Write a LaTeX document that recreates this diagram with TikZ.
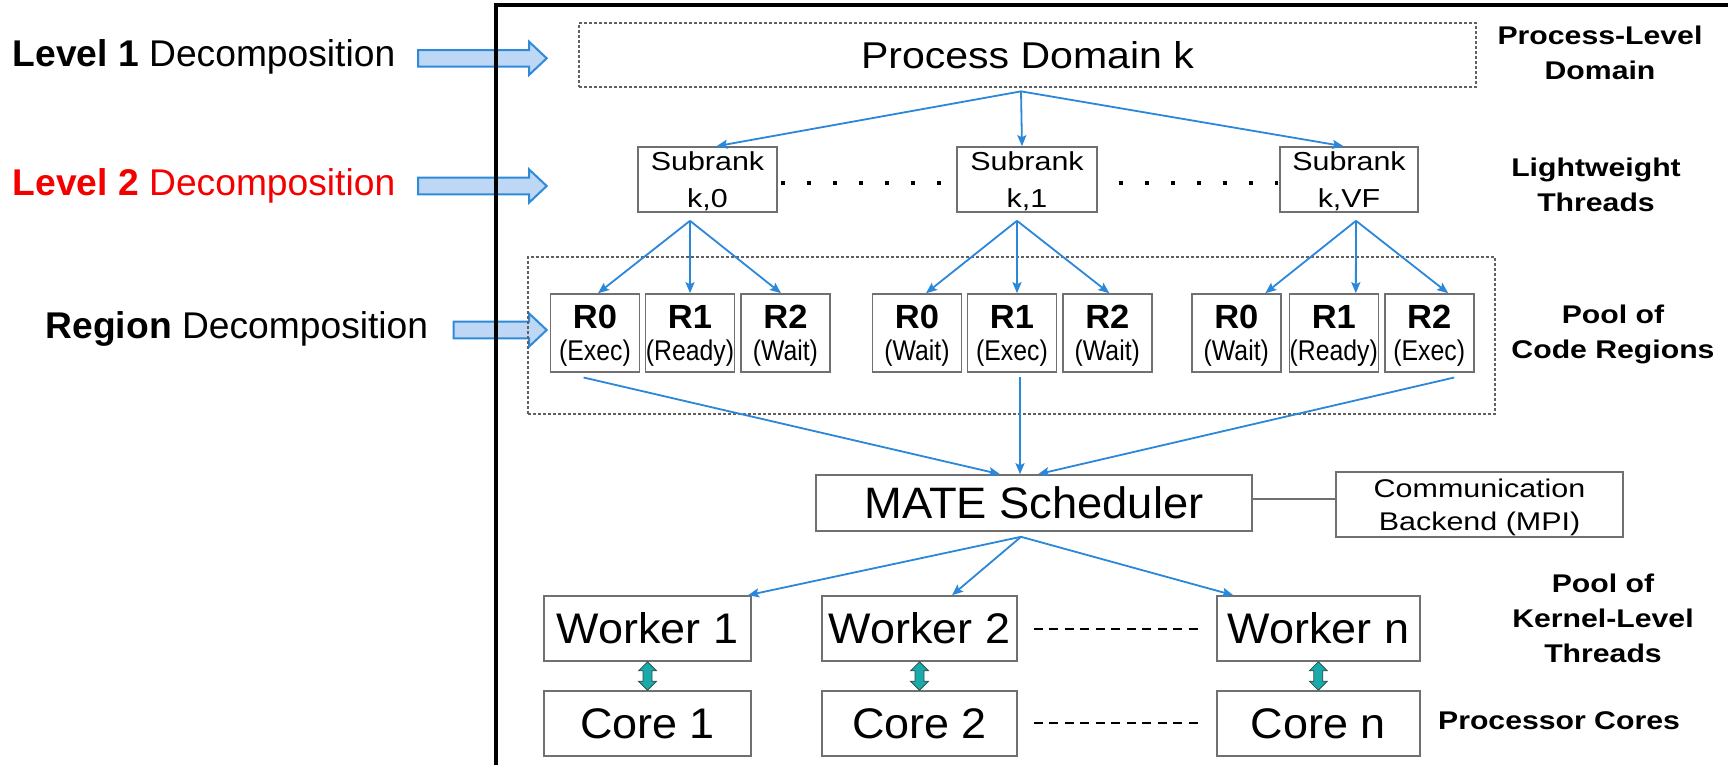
\documentclass[tikz,border=0pt]{standalone}
\usepackage{fontspec}
\setmainfont{Liberation Sans}
\usepackage{graphicx}
\usetikzlibrary{arrows.meta,calc}

\definecolor{linkblue}{RGB}{42,135,218}
\definecolor{arrowfill}{RGB}{189,215,244}
\definecolor{arrowline}{RGB}{47,138,217}
\definecolor{boxgray}{RGB}{112,112,112}
\definecolor{dashgray}{RGB}{96,96,96}
\definecolor{duofill}{RGB}{26,170,170}
\definecolor{duoline}{RGB}{45,80,80}
\definecolor{lvlred}{RGB}{245,0,0}

% horizontal scaling of a piece of text
\newcommand\hs[2]{\scalebox{#1}[1]{#2}}

% fat two-headed arrow between the bottom of #1 and the top of #2
\newcommand\linkarrow[2]{%
  \draw[duo] let \p1=(#1.south), \p2=(#2.north) in
    (\x1,\y1) -- ({\x1+9pt},{\y1-9pt}) -- ({\x1+4.5pt},{\y1-9pt})
    -- ({\x1+4.5pt},{\y2+9pt}) -- ({\x1+9pt},{\y2+9pt}) -- (\x1,\y2)
    -- ({\x1-9pt},{\y2+9pt}) -- ({\x1-4.5pt},{\y2+9pt})
    -- ({\x1-4.5pt},{\y1-9pt}) -- ({\x1-9pt},{\y1-9pt}) -- cycle;}

% block arrow pointing right: #1 tail x, #2 centre y
\newcommand\blockarrow[2]{%
  \draw[barrow] (#1,{#2-8.3}) -- (529,{#2-8.3}) -- (529,{#2-16.7})
    -- (546.7,#2) -- (529,{#2+16.7}) -- (529,{#2+8.3}) -- (#1,{#2+8.3}) -- cycle;}

\begin{document}
\begin{tikzpicture}[x=1pt,y=-1pt,
  box/.style={draw=boxgray, line width=1.6pt, inner sep=0pt, align=center, fill=white},
  dbox/.style={draw=dashgray, line width=1.3pt, dash pattern=on 3pt off 2pt, inner sep=0pt, align=center},
  rbox/.style={box, minimum width=89pt, minimum height=78pt, text depth=-4pt,
    font=\fontsize{28.5}{32}\selectfont},
  wbox/.style={box, minimum height=65pt, font=\fontsize{42.8}{46}\selectfont},
  side/.style={inner sep=0pt, align=center, font=\fontsize{25.6}{35}\selectfont\bfseries},
  lefttext/.style={inner sep=0pt, anchor=base west, font=\fontsize{37.2}{40}\selectfont},
  conn/.style={draw=linkblue, line width=1.8pt, -{Stealth[length=11pt,width=9pt,inset=2pt]}},
  dots/.style={line width=4pt, dash pattern=on 4pt off 22pt},
  dline/.style={line width=2.7pt, dash pattern=on 9pt off 6.5pt},
  duo/.style={fill=duofill, draw=duoline, line width=0.8pt, line join=miter},
  barrow/.style={fill=arrowfill, draw=arrowline, line width=2pt, line join=miter},
  joint/.style={draw=boxgray, line width=1.6pt}]

\useasboundingbox (0,0) rectangle (1728,764);
\fill[white] (0,0) rectangle (1728,764);

% decomposition levels on the left
\node[lefttext] (lv1) at (12.5,66.7) {\textbf{Level 1} Decomposition};
\node[lefttext, text=lvlred] (lv2) at (12.5,195) {\textbf{Level 2} Decomposition};
\node[lefttext] (lv3) at (45.5,338) {\textbf{Region} Decomposition};
\blockarrow{418}{58.3}
\blockarrow{418}{186}
\blockarrow{453.5}{330}

% frame of the runtime
\draw[line width=4pt, line join=miter] (495.5,770) -- (495.5,5.3) -- (1735,5.3);

% process domain
\node[dbox, minimum width=897pt, minimum height=64pt, font=\fontsize{37.3}{40}\selectfont]
  (pd) at (1027.5,55) {\hs{1.10}{Process Domain k}};

% subranks
\begin{scope}[every node/.style={box, minimum height=65pt, text depth=-2pt,
    font=\fontsize{26}{36.6}\selectfont}]
\node[minimum width=139pt] (s0) at (707.5,179.5) {\hs{1.17}{Subrank}\\\hs{1.17}{k,0}};
\node[minimum width=140pt] (s1) at (1027,179.5) {\hs{1.17}{Subrank}\\\hs{1.17}{k,1}};
\node[minimum width=138pt] (s2) at (1349,179.5) {\hs{1.17}{Subrank}\\\hs{1.17}{k,VF}};
\end{scope}
\draw[dots] ([xshift=3.3pt,yshift=-3.2pt]s0.east) -- ([xshift=-15pt,yshift=-3.2pt]s1.west);
\draw[dots] ([xshift=21pt,yshift=-3.2pt]s1.east) -- ([xshift=-1pt,yshift=-3.2pt]s2.west);

% pool of code regions
\node[dbox, minimum width=967pt, minimum height=157pt] (pool) at (1011.5,335.5) {};
\newcommand\rlabel[2]{{\fontsize{33.5}{32}\selectfont\bfseries\hs{1.03}{#1}}\\\hs{0.87}{(#2)}}
\node[rbox] (r00) at (595,333)    {\rlabel{R0}{Exec}};
\node[rbox] (r01) at (690,333)    {\rlabel{R1}{Ready}};
\node[rbox] (r02) at (785.4,333)  {\rlabel{R2}{Wait}};
\node[rbox] (r10) at (917,333)    {\rlabel{R0}{Wait}};
\node[rbox] (r11) at (1012,333)   {\rlabel{R1}{Exec}};
\node[rbox] (r12) at (1107.3,333) {\rlabel{R2}{Wait}};
\node[rbox] (r20) at (1236.3,333) {\rlabel{R0}{Wait}};
\node[rbox] (r21) at (1333.8,333) {\rlabel{R1}{Ready}};
\node[rbox] (r22) at (1429.2,333) {\rlabel{R2}{Exec}};

% scheduler and communication backend
\node[box, minimum width=436pt, minimum height=56pt, font=\fontsize{44}{48}\selectfont]
  (mate) at (1034,503) {\hs{1.03}{MATE Scheduler}};
\node[box, minimum width=287pt, minimum height=65pt, text depth=-2.2pt,
  font=\fontsize{25.6}{33.4}\selectfont]
  (comm) at (1479.5,504.5) {\hs{1.19}{Communication}\\\hs{1.19}{Backend (MPI)}};
\draw[joint] ([yshift=4pt]mate.east) -- ([yshift=5.5pt]comm.west);

% workers and cores
\node[wbox, minimum width=207pt] (w1) at (647.5,628.5) {\hs{1.05}{Worker 1}};
\node[wbox, minimum width=195pt] (w2) at (919.5,628.5) {\hs{1.05}{Worker 2}};
\node[wbox, minimum width=203pt] (wn) at (1318.3,628.5) {\hs{1.05}{Worker n}};
\node[wbox, minimum width=207pt] (c1) at (647.5,723.5) {\hs{1.05}{Core 1}};
\node[wbox, minimum width=195pt] (c2) at (919.5,723.5) {\hs{1.05}{Core 2}};
\node[wbox, minimum width=203pt] (cn) at (1318.3,723.5) {\hs{1.05}{Core n}};
\draw[dline] ([xshift=16pt,yshift=-0.5pt]w2.east) -- ([xshift=-15pt,yshift=-0.5pt]wn.west);
\draw[dline] ([xshift=16pt,yshift=0.5pt]c2.east) -- ([xshift=-15pt,yshift=0.5pt]cn.west);
\linkarrow{w1}{c1}
\linkarrow{w2}{c2}
\linkarrow{wn}{cn}

% labels on the right
\node[side] (lbpd) at (1600,53.2) {\hs{1.18}{Process-Level}\\\hs{1.18}{Domain}};
\node[side] (lbsr) at (1596,184.8) {\hs{1.18}{Lightweight}\\\hs{1.18}{Threads}};
\node[side] (lbrg) at (1613,334) {\hs{1.18}{Pool of}\\\hs{1.18}{Code Regions}};
\node[side] (lbwk) at (1603,618.7) {\hs{1.18}{Pool of}\\\hs{1.18}{Kernel-Level}\\\hs{1.18}{Threads}};
\node[side] (lbcr) at (1559,720.9) {\hs{1.18}{Processor Cores}};

% domain to subranks
\draw[conn] ([xshift=-6.5pt,yshift=-3.7pt]pd.south) -- ([xshift=9pt]s0.north);
\draw[conn] ([xshift=-6.5pt,yshift=-3.7pt]pd.south) -- ([xshift=-5pt]s1.north);
\draw[conn] ([xshift=-6.5pt,yshift=-3.7pt]pd.south) -- ([xshift=-5.5pt]s2.north);

% subranks to code regions
\draw[conn] ([xshift=-17.5pt,yshift=-8pt]s0.south) -- ([xshift=3pt]r00.north);
\draw[conn] ([xshift=-17.5pt,yshift=-8pt]s0.south) -- (r01.north);
\draw[conn] ([xshift=-17.5pt,yshift=-8pt]s0.south) -- ([xshift=-4.4pt]r02.north);
\draw[conn] ([xshift=-10pt,yshift=-8pt]s1.south) -- ([xshift=9pt]r10.north);
\draw[conn] ([xshift=-10pt,yshift=-8pt]s1.south) -- ([xshift=5pt]r11.north);
\draw[conn] ([xshift=-10pt,yshift=-8pt]s1.south) -- ([xshift=2pt]r12.north);
\draw[conn] ([xshift=7pt,yshift=-8pt]s2.south) -- ([xshift=29pt]r20.north);
\draw[conn] ([xshift=7pt,yshift=-8pt]s2.south) -- ([xshift=22pt]r21.north);
\draw[conn] ([xshift=7pt,yshift=-8pt]s2.south) -- ([xshift=19pt]r22.north);

% running regions to the scheduler
\draw[conn] ([xshift=-11.4pt,yshift=-4.7pt]r00.south) -- ([xshift=-34pt]mate.north);
\draw[conn] ([xshift=8pt,yshift=-4pt]r11.south) -- ([xshift=-14pt]mate.north);
\draw[conn] ([xshift=25pt,yshift=-4.7pt]r22.south) -- ([xshift=4pt]mate.north);

% scheduler to workers
\draw[conn] ([xshift=-13pt,yshift=-5pt]mate.south) -- ([xshift=100.5pt]w1.north);
\draw[conn] ([xshift=-13pt,yshift=-5pt]mate.south) -- ([xshift=32.5pt]w2.north);
\draw[conn] ([xshift=-13pt,yshift=-5pt]mate.south) -- ([xshift=-85pt]wn.north);
\end{tikzpicture}
\end{document}
